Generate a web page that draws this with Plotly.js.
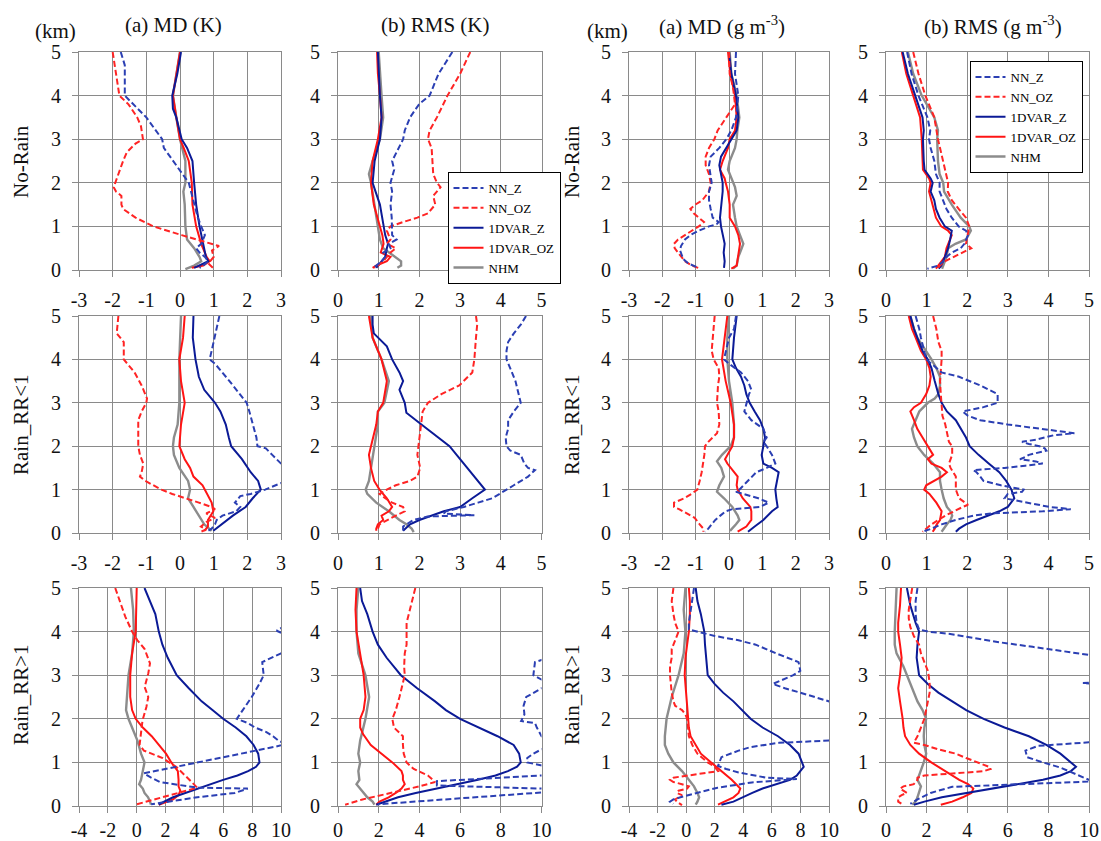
<!DOCTYPE html>
<html><head><meta charset="utf-8">
<script src="https://cdn.plot.ly/plotly-3.0.1.min.js"></script>
<style>html,body{margin:0;padding:0;background:#fff}#chart{width:1101px;height:841px}</style>
</head><body><div id="chart"></div>
<script>
// ---------- labels ----------
const SERIES_NAMES = ['NN_Z','NN_OZ','1DVAR_Z','1DVAR_OZ','NHM'];
const ROW_LABELS = ['No-Rain','Rain_RR&lt;1','Rain_RR&gt;1'];
const COL_TITLES = ['(a) MD (K)','(b) RMS (K)','(a) MD (g m<sup>-3</sup>)','(b) RMS (g m<sup>-3</sup>)'];
const Y_TICKS = [0,1,2,3,4,5];
const X_TICKS_MD = [-3,-2,-1,0,1,2,3];
const X_TICKS_RMS = [0,1,2,3,4,5];
const X_TICKS_MD_R2 = [-4,-2,0,2,4,6,8,10];
const X_TICKS_RMS_R2 = [0,2,4,6,8,10];

// ---------- data: [height km, value] ----------
// Row 1: No-Rain, temperature MD (K)
const tMD_nr_nnz = [[5,-1.76],[4.7,-1.64],[4,-1.64],[3.5,-1.0],[3,-0.53],[2.8,-0.48],[2,0.26],[1.5,0.42],[1.2,0.53],[1,0.63],[0.8,0.74],[0.6,0.63],[0.5,0.48],[0.4,0.58],[0.3,0.74],[0.2,0.84],[0.1,0.69],[0.05,0.58]];
const tMD_nr_nnoz = [[5,-2.0],[4.5,-1.9],[4,-1.8],[3.8,-1.53],[3.5,-1.27],[3.3,-1.16],[3,-1.1],[2.9,-1.32],[2.7,-1.58],[2.5,-1.69],[2.2,-1.83],[1.9,-1.97],[1.8,-1.9],[1.7,-1.74],[1.5,-1.74],[1.4,-1.69],[1.2,-1.32],[1,-0.79],[0.8,0.05],[0.6,0.9],[0.55,1.16],[0.45,0.95],[0.3,1.0],[0.15,0.84],[0.05,0.98]];
const tMD_nr_vz = [[5,0.03],[4.5,-0.08],[4,-0.23],[3.7,-0.21],[3.5,-0.11],[3,0.05],[2.8,0.21],[2.5,0.37],[2,0.42],[1.5,0.48],[1,0.58],[0.6,0.69],[0.3,0.77],[0.2,0.84],[0.1,0.58],[0.05,0.42]];
const tMD_nr_voz = [[5,0],[4.5,-0.11],[4,-0.21],[3.5,-0.11],[3,0],[2.8,0.11],[2.5,0.26],[2,0.35],[1.5,0.37],[1,0.48],[0.6,0.63],[0.3,0.79],[0.2,0.88],[0.1,0.69],[0.05,0.35]];
const tMD_nr_nhm = [[5,0],[4.5,-0.11],[4,-0.21],[3.5,-0.11],[3,0],[2.5,0.16],[2,0.16],[1.8,0.1],[1.5,0.14],[1,0.16],[0.7,0.21],[0.5,0.42],[0.3,0.58],[0.2,0.63],[0.1,0.42],[0.02,0.16]];
// Row 1: No-Rain, temperature RMS (K)
const tRMS_nr_nnz = [[5,2.81],[4.7,2.6],[4.5,2.47],[4,2.25],[3.8,1.99],[3.5,1.77],[3.2,1.64],[3,1.6],[2.5,1.33],[2.3,1.38],[2,1.29],[1.8,1.33],[1.5,1.29],[1.2,1.32],[1,1.33],[0.8,1.33],[0.7,1.44],[0.6,1.25],[0.5,1.29],[0.4,1.11],[0.3,1.16],[0.2,1.07],[0.1,0.94],[0.05,0.85]];
const tRMS_nr_nnoz = [[5,3.25],[4.5,3.0],[4,2.69],[3.5,2.43],[3.2,2.25],[3,2.21],[2.8,2.3],[2.5,2.32],[2.2,2.34],[2,2.43],[1.9,2.52],[1.7,2.34],[1.5,2.39],[1.3,2.21],[1.2,1.95],[1.1,1.6],[1,1.29],[0.9,1.2],[0.7,1.29],[0.6,1.2],[0.5,1.42],[0.4,1.29],[0.3,1.2],[0.2,1.11],[0.1,0.98],[0.05,0.89]];
const tRMS_nr_vz = [[5,0.98],[4.5,1.0],[4,1.03],[3.5,1.07],[3,1.03],[2.5,0.9],[2,0.85],[1.5,1.03],[1,1.11],[0.8,1.16],[0.6,1.23],[0.5,1.2],[0.3,1.16],[0.2,1.07],[0.1,0.98],[0.05,0.94]];
const tRMS_nr_voz = [[5,0.96],[4.5,0.98],[4,1.03],[3.5,1.07],[3,0.98],[2.5,0.85],[2,0.81],[1.5,0.88],[1,1.03],[0.8,1.09],[0.6,1.12],[0.4,1.05],[0.3,1.29],[0.2,1.2],[0.1,0.94],[0.05,0.85]];
const tRMS_nr_nhm = [[5,1.0],[4.5,1.03],[4,1.07],[3.5,1.11],[3,1.03],[2.5,0.85],[2.2,0.76],[2,0.81],[1.5,0.89],[1,0.98],[0.7,1.03],[0.5,1.11],[0.4,1.25],[0.3,1.42],[0.2,1.55],[0.1,1.55],[0.05,1.46]];
// Row 1: No-Rain, humidity MD (g m-3)
const qMD_nr_nnz = [[5,0.21],[4.5,0.18],[4,0.28],[3.5,0.21],[3.2,0.07],[3,-0.08],[2.8,-0.29],[2.6,-0.55],[2.4,-0.6],[2.2,-0.55],[2,-0.52],[1.8,-0.6],[1.6,-0.6],[1.4,-0.55],[1.2,-0.49],[1.1,-0.31],[1.05,-0.37],[1,-0.6],[0.9,-0.91],[0.8,-1.16],[0.7,-1.32],[0.55,-1.44],[0.45,-1.47],[0.35,-1.42],[0.25,-1.37],[0.15,-1.22],[0.05,-0.91]];
const qMD_nr_nnoz = [[5,0],[4.5,0.02],[4.2,0.12],[3.8,0.18],[3.5,-0.08],[3.2,-0.34],[3,-0.44],[2.8,-0.6],[2.6,-0.7],[2.4,-0.7],[2.2,-0.6],[2,-0.55],[1.8,-0.6],[1.6,-0.8],[1.5,-1.01],[1.4,-1.16],[1.3,-1.06],[1.2,-0.91],[1.1,-0.75],[1,-0.91],[0.9,-1.11],[0.8,-1.32],[0.7,-1.53],[0.6,-1.65],[0.5,-1.63],[0.4,-1.53],[0.3,-1.42],[0.2,-1.32],[0.1,-1.11],[0.03,-0.86]];
const qMD_nr_vz = [[5,0],[4.5,0.07],[4,0.21],[3.5,0.28],[3.2,0.23],[3,0.07],[2.8,-0.08],[2.6,-0.24],[2.4,-0.29],[2.2,-0.24],[2,-0.19],[1.8,-0.19],[1.6,-0.21],[1.4,-0.24],[1.2,-0.27],[1,-0.24],[0.8,-0.19],[0.6,-0.13],[0.4,-0.16],[0.2,-0.13],[0.05,-0.15]];
const qMD_nr_voz = [[5,-0.03],[4.5,0.04],[4,0.18],[3.5,0.23],[3.2,0.18],[3,0.02],[2.8,-0.03],[2.5,-0.19],[2.3,-0.27],[2.1,-0.13],[2,-0.1],[1.8,-0.03],[1.5,0.02],[1.2,0.02],[1,0.18],[0.8,0.28],[0.6,0.33],[0.5,0.31],[0.3,0.28],[0.1,0.23],[0.03,0.07]];
const qMD_nr_nhm = [[5,0.02],[4.5,0.07],[4,0.23],[3.5,0.31],[3.2,0.25],[3,0.23],[2.8,0.18],[2.5,0.02],[2.3,-0.03],[2.1,0.07],[1.9,0.18],[1.7,0.23],[1.5,0.12],[1.2,0.18],[1,0.23],[0.8,0.33],[0.6,0.43],[0.5,0.38],[0.3,0.28],[0.1,0.23],[0.03,0.12]];
// Row 1: No-Rain, humidity RMS (g m-3)
const qRMS_nr_nnz = [[5,0.52],[4.5,0.63],[4,0.8],[3.5,1.02],[3.2,1.09],[3,1.06],[2.8,1.1],[2.5,1.19],[2.2,1.23],[2,1.32],[1.8,1.32],[1.6,1.41],[1.4,1.49],[1.2,1.62],[1,1.79],[0.9,1.97],[0.8,2.02],[0.6,1.93],[0.5,1.84],[0.4,1.62],[0.3,1.49],[0.2,1.41],[0.1,1.28],[0.03,1.02]];
const qRMS_nr_nnoz = [[5,0.67],[4.5,0.8],[4,0.97],[3.7,1.1],[3.5,1.19],[3,1.28],[2.7,1.36],[2.5,1.41],[2.2,1.49],[2,1.53],[1.8,1.52],[1.6,1.62],[1.4,1.79],[1.2,1.97],[1,2.05],[0.8,2.01],[0.6,1.97],[0.5,2.1],[0.4,1.88],[0.3,1.66],[0.2,1.45],[0.1,1.32],[0.03,1.28]];
const qRMS_nr_vz = [[5,0.41],[4.5,0.54],[4,0.72],[3.5,0.9],[3.2,0.93],[3,0.91],[2.5,0.93],[2.3,0.95],[2.1,1.1],[2,1.15],[1.8,1.1],[1.6,1.19],[1.4,1.23],[1.2,1.32],[1,1.45],[0.9,1.62],[0.7,1.58],[0.5,1.53],[0.3,1.45],[0.2,1.41],[0.1,1.36],[0.03,1.3]];
const qRMS_nr_voz = [[5,0.39],[4.5,0.5],[4,0.67],[3.5,0.84],[3,0.88],[2.5,0.91],[2.3,0.91],[2.1,1.06],[2,1.1],[1.8,1.06],[1.5,1.15],[1.2,1.23],[1,1.36],[0.9,1.53],[0.8,1.62],[0.6,1.53],[0.5,1.49],[0.3,1.45],[0.2,1.36],[0.1,1.28],[0.03,1.23]];
const qRMS_nr_nhm = [[5,0.54],[4.5,0.67],[4,0.88],[3.5,1.19],[3.2,1.28],[3,1.26],[2.5,1.28],[2.2,1.32],[2,1.41],[1.8,1.43],[1.5,1.62],[1.2,1.84],[1,2.05],[0.9,2.09],[0.7,1.97],[0.6,1.71],[0.5,1.53],[0.3,1.49],[0.1,1.41],[0.03,1.38]];

// Row 2: Rain_RR<1, temperature MD (K)
const tMD_r1_nnz = [[5,1.17],[4.5,1.04],[4.2,0.94],[4,0.88],[3.9,1.04],[3.5,1.47],[3.2,1.77],[3,1.98],[2.8,2.06],[2.5,2.16],[2.2,2.27],[2,2.3],[1.95,2.55],[1.8,2.74],[1.6,3.0],[1.4,3.4],[1.2,3.3],[1.15,3.0],[1,2.53],[0.9,2.1],[0.85,1.79],[0.7,1.63],[0.6,1.79],[0.5,1.67],[0.4,1.26],[0.3,1.09],[0.2,1.04],[0.1,0.94],[0.05,0.83]];
const tMD_r1_nnoz = [[5,-1.83],[4.6,-1.88],[4.4,-1.67],[4.2,-1.67],[4,-1.67],[3.7,-1.35],[3.4,-1.14],[3.1,-0.98],[3,-1.0],[2.8,-1.14],[2.6,-1.24],[2.4,-1.24],[2,-1.24],[1.8,-1.19],[1.6,-1.09],[1.4,-1.14],[1.3,-1.19],[1.2,-1.03],[1,-0.55],[0.9,-0.23],[0.8,0.19],[0.7,0.56],[0.6,0.94],[0.55,1.04],[0.45,0.78],[0.35,1.04],[0.25,0.78],[0.15,0.62],[0.08,0.78],[0.03,0.62]];
const tMD_r1_vz = [[5,0.4],[4.5,0.38],[4,0.46],[3.6,0.56],[3.3,0.72],[3,1.04],[2.8,1.2],[2.5,1.36],[2.2,1.45],[2,1.52],[1.7,1.84],[1.4,2.1],[1.2,2.32],[1,2.4],[0.8,2.16],[0.6,1.95],[0.4,1.57],[0.2,1.25],[0.05,0.99]];
const tMD_r1_voz = [[5,0.14],[4.5,0.09],[4,-0.02],[3.5,0.03],[3,0.14],[2.5,0.03],[2,-0.02],[1.7,0.14],[1.5,0.3],[1.3,0.4],[1.1,0.67],[0.9,0.81],[0.7,0.94],[0.5,0.99],[0.3,0.83],[0.15,0.83],[0.05,0.72]];
const tMD_r1_nhm = [[5,0.03],[4.5,0],[4,-0.02],[3.5,-0.02],[3,-0.02],[2.5,-0.07],[2.2,-0.18],[2,-0.21],[1.8,-0.18],[1.5,-0.02],[1.2,0.24],[1,0.3],[0.8,0.24],[0.6,0.4],[0.4,0.56],[0.2,0.72],[0.05,0.94]];
// Row 2: Rain_RR<1, temperature RMS (K)
const tRMS_r1_nnz = [[5,4.62],[4.8,4.49],[4.6,4.32],[4.4,4.18],[4.2,4.14],[4,4.14],[3.8,4.23],[3.5,4.36],[3,4.49],[2.8,4.32],[2.6,4.18],[2.4,4.18],[2.2,4.12],[2,4.14],[1.9,4.23],[1.8,4.49],[1.6,4.58],[1.5,4.67],[1.45,4.84],[1.3,4.67],[1.1,4.32],[1,4.14],[0.8,3.79],[0.7,3.44],[0.6,3.09],[0.5,2.65],[0.45,2.6],[0.41,3.35],[0.38,2.2],[0.3,1.85],[0.15,1.6],[0.05,1.6]];
const tRMS_r1_nnoz = [[5,3.39],[4.8,3.42],[4.5,3.39],[4,3.35],[3.7,3.3],[3.4,2.98],[3.2,2.54],[3,2.21],[2.8,2.08],[2.5,2.04],[2,1.99],[1.8,1.95],[1.5,2.02],[1.3,1.95],[1.2,1.77],[1.1,1.42],[1,1.2],[0.9,1.02],[0.8,1.16],[0.7,1.33],[0.6,1.6],[0.5,1.64],[0.4,1.42],[0.3,1.2],[0.2,1.02],[0.1,0.98],[0.05,1.0]];
const tRMS_r1_vz = [[5,0.85],[4.8,0.85],[4.6,0.88],[4.5,0.98],[4.3,1.2],[4,1.33],[3.7,1.51],[3.5,1.6],[3.3,1.51],[3,1.64],[2.77,1.68],[2.5,2.05],[2.2,2.46],[2,2.74],[1.7,3.0],[1.5,3.18],[1.2,3.44],[1,3.61],[0.8,3.3],[0.6,3.0],[0.5,2.6],[0.4,2.3],[0.3,2.0],[0.2,1.77],[0.1,1.65],[0.05,1.6]];
const tRMS_r1_voz = [[5,0.76],[4.5,0.85],[4,1.07],[3.5,1.2],[3,1.11],[2.8,0.98],[2.5,0.94],[2,0.81],[1.8,0.76],[1.5,0.81],[1.2,0.89],[1,1.02],[0.8,1.2],[0.6,1.33],[0.5,1.25],[0.4,1.07],[0.3,1.11],[0.2,0.98],[0.1,0.94],[0.05,0.94]];
const tRMS_r1_nhm = [[5,0.81],[4.5,0.85],[4,1.07],[3.5,1.25],[3,1.14],[2.8,0.98],[2.5,0.98],[2,0.89],[1.5,0.81],[1.2,0.76],[1,0.68],[0.9,0.72],[0.7,0.94],[0.5,1.25],[0.3,1.51],[0.2,1.68],[0.1,1.81],[0.02,1.86]];
// Row 2: Rain_RR<1, humidity MD (g m-3)
const qMD_r1_nnz = [[5,0.21],[4.7,0.15],[4.5,0],[4.2,-0.1],[4,-0.15],[3.9,0],[3.7,0.36],[3.5,0.57],[3.3,0.67],[3.2,0.6],[3,0.52],[2.8,0.46],[2.6,0.67],[2.5,0.87],[2.4,1.03],[2.2,1.13],[2.1,1.03],[2,1.13],[1.8,1.29],[1.6,1.39],[1.5,1.13],[1.4,0.82],[1.2,0.57],[1,0.31],[0.95,0.21],[0.9,0.41],[0.8,0.88],[0.7,1.19],[0.6,0.93],[0.55,0.1],[0.5,-0.1],[0.4,-0.26],[0.3,-0.41],[0.2,-0.52],[0.1,-0.62],[0.03,-0.72]];
const qMD_r1_nnoz = [[5,-0.43],[4.5,-0.48],[4.2,-0.52],[4,-0.46],[3.8,-0.31],[3.6,-0.29],[3.4,-0.33],[3,-0.36],[2.8,-0.31],[2.5,-0.29],[2.3,-0.36],[2.1,-0.62],[2,-0.72],[1.8,-0.74],[1.6,-0.77],[1.4,-0.82],[1.2,-0.88],[1,-0.95],[0.9,-1.13],[0.8,-1.34],[0.7,-1.65],[0.6,-1.65],[0.55,-1.5],[0.45,-1.24],[0.35,-1.03],[0.2,-0.88],[0.1,-0.77],[0.03,-0.77]];
const qMD_r1_vz = [[5,0.23],[4.5,0.15],[4,0.1],[3.8,0.21],[3.6,0.36],[3.4,0.46],[3.2,0.52],[3,0.62],[2.8,0.77],[2.6,0.93],[2.4,1.03],[2.2,1.08],[2,1.03],[1.8,0.98],[1.6,1.03],[1.5,1.29],[1.4,1.49],[1.2,1.44],[1,1.39],[0.8,1.42],[0.6,1.46],[0.5,1.29],[0.3,1.03],[0.15,0.77],[0.03,0.57]];
const qMD_r1_voz = [[5,-0.05],[4.5,-0.12],[4,-0.21],[3.5,-0.1],[3,0.05],[2.5,0.15],[2.2,0.15],[2,0.1],[1.8,-0.05],[1.7,-0.12],[1.6,-0.05],[1.4,0.15],[1.3,0.26],[1.1,0.23],[1,0.26],[0.8,0.41],[0.6,0.64],[0.5,0.67],[0.3,0.67],[0.15,0.52],[0.03,0.26]];
const qMD_r1_nhm = [[5,0],[4.5,-0.05],[4,-0.05],[3.5,0],[3,0.1],[2.5,0.15],[2.2,0.15],[2,0.05],[1.8,-0.21],[1.65,-0.36],[1.5,-0.23],[1.3,-0.15],[1.1,-0.29],[0.95,-0.36],[0.8,-0.15],[0.6,0.1],[0.4,0.26],[0.3,0.31],[0.2,0.21],[0.05,0.03]];
// Row 2: Rain_RR<1, humidity RMS (g m-3)
const qRMS_r1_nnz = [[5,0.73],[4.7,0.82],[4.5,0.86],[4.2,0.94],[4,0.99],[3.9,1.12],[3.7,1.37],[3.6,1.8],[3.4,2.32],[3.2,2.75],[3,2.75],[2.9,2.4],[2.8,1.89],[2.7,2.02],[2.6,2.32],[2.5,3.0],[2.4,3.86],[2.3,4.64],[2.25,4.12],[2.15,3.69],[2.1,3.35],[2.05,3.52],[2,3.78],[1.95,3.91],[1.9,3.95],[1.85,3.69],[1.8,3.52],[1.75,3.43],[1.7,3.3],[1.65,3.69],[1.6,3.86],[1.55,3.43],[1.5,2.92],[1.45,2.15],[1.4,2.23],[1.3,2.32],[1.2,2.4],[1.1,2.83],[1,3.39],[0.95,3.35],[0.9,3.0],[0.8,2.92],[0.7,3.52],[0.6,4.03],[0.55,4.55],[0.5,3.86],[0.45,2.58],[0.4,2.15],[0.3,1.72],[0.2,1.37],[0.1,1.12],[0.03,0.9]];
const qRMS_r1_nnoz = [[5,1.16],[4.7,1.24],[4.4,1.29],[4.2,1.37],[4,1.37],[3.8,1.35],[3.5,1.33],[3.2,1.35],[3,1.37],[2.7,1.39],[2.5,1.46],[2.3,1.5],[2.1,1.55],[2,1.63],[1.8,1.63],[1.6,1.55],[1.5,1.59],[1.3,1.72],[1.1,1.72],[1,1.72],[0.8,1.8],[0.7,1.93],[0.65,2.02],[0.6,1.89],[0.5,1.67],[0.4,1.46],[0.3,1.29],[0.2,1.12],[0.1,0.99],[0.03,0.9]];
const qRMS_r1_vz = [[5,0.6],[4.7,0.69],[4.5,0.77],[4.2,0.9],[4,1.03],[3.8,1.12],[3.5,1.2],[3.2,1.29],[3,1.37],[2.8,1.5],[2.6,1.72],[2.4,1.85],[2.2,1.97],[2,2.06],[1.8,2.28],[1.6,2.53],[1.4,2.79],[1.2,2.96],[1,3.09],[0.8,3.16],[0.6,3.0],[0.5,2.79],[0.4,2.49],[0.3,2.23],[0.2,1.97],[0.1,1.8],[0.03,1.72]];
const qRMS_r1_voz = [[5,0.56],[4.7,0.64],[4.5,0.73],[4.2,0.86],[4,0.99],[3.8,1.07],[3.6,1.1],[3.4,1.07],[3.2,0.99],[3,0.86],[2.9,0.69],[2.8,0.6],[2.6,0.69],[2.4,0.77],[2.2,0.9],[2,1.03],[1.8,1.16],[1.7,1.03],[1.6,1.12],[1.5,1.37],[1.4,1.5],[1.3,1.37],[1.2,1.16],[1.1,0.99],[1,0.94],[0.9,1.07],[0.7,1.24],[0.5,1.37],[0.3,1.33],[0.2,1.25],[0.1,1.2],[0.03,1.15]];
const qRMS_r1_nhm = [[5,0.6],[4.7,0.69],[4.5,0.77],[4.2,0.99],[4,1.12],[3.8,1.24],[3.6,1.33],[3.4,1.33],[3.2,1.29],[3.1,1.2],[3,1.03],[2.8,0.82],[2.6,0.73],[2.4,0.64],[2.2,0.69],[2,0.77],[1.8,0.94],[1.6,1.16],[1.4,1.33],[1.2,1.33],[1,1.37],[0.8,1.42],[0.6,1.5],[0.5,1.59],[0.4,1.63],[0.3,1.59],[0.2,1.5],[0.1,1.42],[0.03,1.37]];

// Row 3: Rain_RR>1, temperature MD (K)
const tMD_r2_nnz = [[5,13],[4.12,10.2],[4.02,9.7],[3.9,10.5],[3.55,10.5],[3.5,10.0],[3.3,8.7],[3,8.8],[2.8,8.5],[2.5,7.97],[2.2,7.35],[2,6.94],[1.9,7.72],[1.8,8.2],[1.7,8.96],[1.6,9.45],[1.5,9.83],[1.42,10.3],[1.36,9.6],[1,4.3],[0.9,2.8],[0.75,0.5],[0.65,1.0],[0.55,1.6],[0.45,3.6],[0.42,4.3],[0.4,7.7],[0.3,6.8],[0.2,4.2],[0.1,2.2],[0.04,1.0]];
const tMD_r2_nnoz = [[5,-1.49],[4.73,-1.2],[4.35,-0.8],[4,-0.32],[3.8,0.05],[3.6,0.55],[3.27,0.92],[3.04,0.8],[2.73,0.55],[2.5,0.8],[2.27,0.67],[1.96,0.4],[1.7,0.3],[1.4,0.2],[1.27,0.5],[1.1,1.8],[0.88,2.8],[0.65,3.5],[0.42,4.2],[0.23,2.1],[0.04,0.0]];
const tMD_r2_vz = [[5,0.54],[4.7,0.92],[4.4,1.29],[4,1.53],[3.7,1.78],[3.4,2.15],[3,2.77],[2.7,3.61],[2.4,4.5],[2.2,5.25],[2,5.99],[1.8,6.86],[1.6,7.6],[1.4,8.1],[1.2,8.42],[1,8.51],[0.9,8.27],[0.8,7.72],[0.7,6.98],[0.6,5.99],[0.5,5.12],[0.4,4.13],[0.3,3.27],[0.2,2.52],[0.1,1.9],[0.03,1.53]];
const tMD_r2_voz = [[5,0],[4.5,-0.05],[4,-0.07],[3.5,-0.32],[3,-0.45],[2.5,-0.45],[2.2,-0.32],[2,-0.07],[1.8,0.42],[1.6,1.04],[1.4,1.53],[1.2,2.03],[1,2.4],[0.8,2.85],[0.6,2.9],[0.45,2.9],[0.35,3.02],[0.25,2.9],[0.15,2.52],[0.08,1.9],[0.03,1.53]];
const tMD_r2_nhm = [[5,-0.4],[4.5,-0.25],[4,-0.2],[3.5,-0.32],[3,-0.57],[2.5,-0.69],[2.2,-0.74],[2,-0.57],[1.8,-0.32],[1.5,0.05],[1.2,0.3],[1,0.54],[0.8,0.42],[0.6,0.3],[0.5,0.17],[0.4,0.42],[0.3,0.54],[0.2,0.79],[0.1,0.92],[0.03,0.99]];
// Row 3: Rain_RR>1, temperature RMS (K)
const tRMS_r2_nnz = [[3.45,11],[3.35,10],[3.3,9.68],[3,9.6],[2.9,10],[2.85,11],[2.75,11],[2.7,10],[2.5,9.25],[2.3,9.12],[2.1,9.16],[1.95,9.0],[1.9,9.68],[1.8,9.77],[1.6,10],[1.45,11],[1.35,11],[1.3,10],[1.2,9.6],[1.1,9.3],[1,9.3],[0.95,9.86],[0.85,10.8],[0.73,11],[0.7,10],[0.57,4.86],[0.47,4.86],[0.4,10],[0.36,11],[0.32,11],[0.31,10],[0.04,1.96]];
const tRMS_r2_nnoz = [[5,3.8],[4.7,3.63],[4.4,3.46],[4.2,3.37],[4,3.37],[3.7,3.37],[3.5,3.28],[3.2,3.25],[3,3.28],[2.8,3.19],[2.5,3.02],[2.2,2.84],[2,2.67],[1.8,2.75],[1.6,3.19],[1.4,3.19],[1.2,3.23],[1,3.37],[0.85,3.72],[0.7,4.42],[0.6,4.68],[0.55,4.77],[0.45,4.0],[0.3,2.6],[0.15,1.2],[0.03,0.35]];
const tRMS_r2_vz = [[5,1.09],[4.7,1.18],[4.4,1.44],[4,1.7],[3.7,1.96],[3.4,2.39],[3,3.09],[2.7,3.89],[2.4,4.77],[2.2,5.3],[2,6.0],[1.8,6.88],[1.6,7.84],[1.4,8.63],[1.2,8.9],[1,8.98],[0.9,8.8],[0.8,8.35],[0.7,7.74],[0.6,6.88],[0.5,5.82],[0.4,4.77],[0.3,3.82],[0.2,2.95],[0.1,2.25],[0.03,1.88]];
const tRMS_r2_voz = [[5,0.91],[4.5,0.86],[4,0.91],[3.5,1.09],[3,1.26],[2.5,1.35],[2.2,1.26],[2,1.09],[1.8,1.09],[1.65,1.23],[1.4,1.61],[1.2,2.14],[1,2.67],[0.8,3.12],[0.7,3.19],[0.6,3.19],[0.5,3.28],[0.4,3.12],[0.3,2.84],[0.2,2.49],[0.1,2.04],[0.03,1.88]];
const tRMS_r2_nhm = [[5,1.0],[4.5,0.91],[4,0.91],[3.5,1.0],[3,1.35],[2.5,1.53],[2,1.35],[1.5,1.09],[1.2,1.0],[1,1.09],[0.8,1.0],[0.6,1.05],[0.5,0.91],[0.3,1.26],[0.2,1.44],[0.1,1.7],[0.03,1.79]];
// Row 3: Rain_RR>1, humidity MD (g m-3)
const qMD_r2_nnz = [[5,0.55],[4.7,0.43],[4.4,0.31],[4.2,0.19],[4.05,0.19],[4,0.79],[3.9,2.0],[3.8,3.67],[3.7,4.87],[3.5,6.31],[3.3,7.87],[3.1,7.99],[3,7.5],[2.8,6.07],[2.7,6.91],[2.6,7.99],[2.5,8.95],[2.4,9.9],[2.3,11],[1.6,11],[1.5,10],[1.45,6.5],[1.35,4.5],[1.27,3.67],[1.12,2.47],[0.92,2.23],[0.85,2.8],[0.77,3.67],[0.65,5.6],[0.62,7.75],[0.54,4.6],[0.42,2.2],[0.31,0.8],[0.2,-0.4],[0.15,-0.9],[0.1,-1.13],[0.05,-0.9]];
const qMD_r2_nnoz = [[5,-0.89],[4.7,-1.01],[4.4,-0.89],[4.2,-0.77],[4,-0.53],[3.8,-0.77],[3.6,-1.01],[3.4,-1.01],[3.2,-1.13],[3,-1.13],[2.8,-1.08],[2.6,-1.01],[2.4,-0.89],[2.3,-0.77],[2.2,-0.29],[2.1,-0.05],[2,0.07],[1.8,0.12],[1.6,0.19],[1.4,0.43],[1.2,0.79],[1,1.51],[0.9,1.99],[0.8,2.23],[0.75,1.27],[0.7,0.07],[0.65,-0.89],[0.6,-1.13],[0.55,-0.89],[0.5,-0.29],[0.45,0.19],[0.4,0.07],[0.35,-0.53],[0.3,-0.65],[0.25,-0.29],[0.2,-0.53],[0.15,-0.77],[0.1,-0.65],[0.05,-0.41],[0.02,-0.29]];
const qMD_r2_vz = [[5,0.67],[4.7,0.79],[4.4,1.03],[4,1.27],[3.7,1.32],[3.4,1.39],[3,1.51],[2.8,1.99],[2.6,2.59],[2.4,3.31],[2.2,3.91],[2,4.51],[1.8,5.35],[1.6,6.43],[1.4,7.27],[1.2,7.87],[1,8.11],[0.9,8.23],[0.8,7.99],[0.7,7.75],[0.6,7.27],[0.5,6.31],[0.4,5.35],[0.3,4.63],[0.2,3.91],[0.1,3.31],[0.03,2.47]];
const qMD_r2_voz = [[5,0.19],[4.7,0.26],[4.4,0.26],[4,0.19],[3.7,0.07],[3.4,-0.05],[3,-0.1],[2.8,-0.05],[2.5,0.02],[2.2,0.07],[2,0.12],[1.8,0.19],[1.6,0.31],[1.4,0.67],[1.2,1.03],[1,1.75],[0.8,2.47],[0.6,3.19],[0.4,3.79],[0.3,3.67],[0.2,3.31],[0.1,2.71],[0.03,2.23]];
const qMD_r2_nhm = [[5,-0.05],[4.5,-0.17],[4,-0.05],[3.5,-0.17],[3,-0.53],[2.5,-1.01],[2,-1.37],[1.6,-1.49],[1.4,-1.49],[1.2,-1.25],[1,-0.89],[0.8,-0.29],[0.6,0.19],[0.45,0.55],[0.3,0.79],[0.2,0.91],[0.1,0.79],[0.03,0.67]];
// Row 3: Rain_RR>1, humidity RMS (g m-3)
const qRMS_r2_nnz = [[5,1.55],[4.7,1.46],[4.4,1.46],[4.2,1.51],[4.05,1.63],[4,2.06],[3.95,3.09],[3.85,4.3],[3.75,5.67],[3.65,7.22],[3.55,8.59],[3.45,10],[3.4,11],[2.85,11],[2.82,9.7],[2.78,11],[1.5,11],[1.46,10],[1.38,7.5],[1.27,6.87],[1.12,6.95],[1,7.73],[0.88,8.6],[0.7,9.5],[0.6,10],[0.58,10.8],[0.56,10],[0.44,3.26],[0.3,2.2],[0.15,1.55],[0.05,1.2]];
const qRMS_r2_nnoz = [[5,1.29],[4.7,1.2],[4.5,1.12],[4.3,1.12],[4.1,1.2],[3.9,1.37],[3.7,1.63],[3.5,1.72],[3.3,1.89],[3.1,2.06],[3,2.1],[2.8,2.15],[2.6,2.15],[2.4,2.06],[2.2,1.98],[2,1.89],[1.8,1.72],[1.6,1.55],[1.45,1.37],[1.4,1.89],[1.3,2.58],[1.2,3.44],[1.1,3.95],[1,4.55],[0.9,5.07],[0.85,5.15],[0.8,4.81],[0.75,3.44],[0.7,1.89],[0.65,1.55],[0.6,1.55],[0.5,1.37],[0.45,0.86],[0.4,0.69],[0.3,1.03],[0.25,0.77],[0.2,0.6],[0.1,0.6],[0.05,0.77]];
const qRMS_r2_vz = [[5,1.03],[4.6,1.2],[4.2,1.46],[4,1.63],[3.7,1.55],[3.4,1.51],[3,1.63],[2.8,2.06],[2.6,2.58],[2.4,3.26],[2.2,3.95],[2,4.81],[1.8,5.84],[1.6,7.04],[1.4,7.9],[1.2,8.59],[1,9.11],[0.9,9.36],[0.8,9.11],[0.7,8.59],[0.6,7.73],[0.5,6.53],[0.4,5.15],[0.3,3.95],[0.2,2.75],[0.1,1.89],[0.03,1.37]];
const qRMS_r2_voz = [[5,0.74],[4.6,0.69],[4.2,0.6],[4,0.6],[3.7,0.69],[3.4,0.77],[3,0.69],[2.7,0.6],[2.4,0.69],[2.2,0.77],[2,0.82],[1.8,0.86],[1.6,0.94],[1.4,1.2],[1.2,1.63],[1,2.23],[0.8,2.92],[0.6,3.61],[0.5,4.04],[0.4,4.3],[0.3,4.21],[0.2,3.78],[0.1,3.26],[0.03,2.7]];
const qRMS_r2_nhm = [[5,0.52],[4.6,0.48],[4.2,0.43],[4,0.43],[3.7,0.43],[3.5,0.52],[3.2,0.86],[3,1.03],[2.7,1.29],[2.4,1.55],[2.2,1.8],[2,1.98],[1.8,1.89],[1.6,1.86],[1.4,1.89],[1.2,1.98],[1,1.86],[0.8,1.72],[0.6,1.55],[0.45,1.72],[0.3,1.63],[0.2,1.55],[0.1,1.46],[0.03,1.29]];

// ---------- panels ----------
const PANELS = [
  {r:0,c:0,lines:[tMD_nr_nnz,tMD_nr_nnoz,tMD_nr_vz,tMD_nr_voz,tMD_nr_nhm],ticks:X_TICKS_MD},
  {r:0,c:1,lines:[tRMS_nr_nnz,tRMS_nr_nnoz,tRMS_nr_vz,tRMS_nr_voz,tRMS_nr_nhm],ticks:X_TICKS_RMS,legend:'legend'},
  {r:0,c:2,lines:[qMD_nr_nnz,qMD_nr_nnoz,qMD_nr_vz,qMD_nr_voz,qMD_nr_nhm],ticks:X_TICKS_MD},
  {r:0,c:3,lines:[qRMS_nr_nnz,qRMS_nr_nnoz,qRMS_nr_vz,qRMS_nr_voz,qRMS_nr_nhm],ticks:X_TICKS_RMS,legend:'legend2'},
  {r:1,c:0,lines:[tMD_r1_nnz,tMD_r1_nnoz,tMD_r1_vz,tMD_r1_voz,tMD_r1_nhm],ticks:X_TICKS_MD},
  {r:1,c:1,lines:[tRMS_r1_nnz,tRMS_r1_nnoz,tRMS_r1_vz,tRMS_r1_voz,tRMS_r1_nhm],ticks:X_TICKS_RMS},
  {r:1,c:2,lines:[qMD_r1_nnz,qMD_r1_nnoz,qMD_r1_vz,qMD_r1_voz,qMD_r1_nhm],ticks:X_TICKS_MD},
  {r:1,c:3,lines:[qRMS_r1_nnz,qRMS_r1_nnoz,qRMS_r1_vz,qRMS_r1_voz,qRMS_r1_nhm],ticks:X_TICKS_RMS},
  {r:2,c:0,lines:[tMD_r2_nnz,tMD_r2_nnoz,tMD_r2_vz,tMD_r2_voz,tMD_r2_nhm],ticks:X_TICKS_MD_R2},
  {r:2,c:1,lines:[tRMS_r2_nnz,tRMS_r2_nnoz,tRMS_r2_vz,tRMS_r2_voz,tRMS_r2_nhm],ticks:X_TICKS_RMS_R2},
  {r:2,c:2,lines:[qMD_r2_nnz,qMD_r2_nnoz,qMD_r2_vz,qMD_r2_voz,qMD_r2_nhm],ticks:X_TICKS_MD_R2},
  {r:2,c:3,lines:[qRMS_r2_nnz,qRMS_r2_nnoz,qRMS_r2_vz,qRMS_r2_voz,qRMS_r2_nhm],ticks:X_TICKS_RMS_R2}
];

// ---------- styling ----------
const W = 1101, H = 841;
const COL_PX = [[79,281],[338,541.5],[629,829],[886,1089]];
const ROW_PX = [[52,270],[316,533],[588,806]];
const XLABEL_STANDOFF = [6, 6, 0];
const STYLES = [
  {color:'#2b3fb3', dash:'6px,3px', width:2},
  {color:'#ff2424', dash:'6px,3px', width:2},
  {color:'#0b1a96', dash:'solid', width:2},
  {color:'#ff1414', dash:'solid', width:2},
  {color:'#8c8c8c', dash:'solid', width:2.4}
];
const DRAW_ORDER = [4,3,2,1,0];
const SERIF = '"Liberation Serif", "Times New Roman", Times, "DejaVu Serif", serif';
const GRID = '#8a8a8a';

const traces = [];
const legendBase = {xanchor:'center', yanchor:'top', bgcolor:'#fff', bordercolor:'#000', borderwidth:1,
  font:{family:SERIF,size:13,color:'#000'}, itemwidth:30, tracegroupgap:0};
const layout = {
  width: W, height: H,
  margin: {l:0,r:0,t:0,b:0},
  paper_bgcolor: '#fff', plot_bgcolor: '#fff',
  showlegend: true,
  hovermode: false,
  font: {family: SERIF, size: 20, color: '#111'},
  annotations: [],
  legend: Object.assign({x:504/W, y:1-172/H}, legendBase),
  legend2: Object.assign({x:1026/W, y:1-61/H}, legendBase)
};

PANELS.forEach((p, i) => {
  const n = i + 1;
  const xa = 'xaxis' + (n === 1 ? '' : n), ya = 'yaxis' + (n === 1 ? '' : n);
  const xr = 'x' + (n === 1 ? '' : n), yr = 'y' + (n === 1 ? '' : n);
  const cx = COL_PX[p.c], ry = ROW_PX[p.r];
  const common = {showgrid:true, gridcolor:GRID, gridwidth:1, showline:true, linecolor:GRID, linewidth:1,
                  mirror:true, ticks:'outside', ticklen:6, tickcolor:GRID, zeroline:false, fixedrange:true,
                  tickfont:{family:SERIF,size:20,color:'#111'}};
  layout[xa] = Object.assign({}, common, {
    domain:[cx[0]/W, cx[1]/W], anchor: yr,
    range:[p.ticks[0], p.ticks[p.ticks.length-1]],
    tickmode:'array', tickvals:p.ticks, ticktext:p.ticks.map(v => String(v)), ticklabelstandoff: XLABEL_STANDOFF[p.r]
  });
  layout[ya] = Object.assign({}, common, {
    domain:[1-ry[1]/H, 1-ry[0]/H], anchor: xr, range:[0,5],
    tickmode:'array', tickvals:Y_TICKS, ticktext:Y_TICKS.map(v => String(v)), ticklabelstandoff: 7
  });
  DRAW_ORDER.forEach(k => {
    const d = p.lines[k];
    traces.push({
      type:'scatter', mode:'lines', name: SERIES_NAMES[k],
      x: d.map(q => q[1]), y: d.map(q => q[0]),
      xaxis: xr, yaxis: yr,
      line: {color:STYLES[k].color, dash:STYLES[k].dash, width:STYLES[k].width},
      showlegend: !!p.legend, legend: p.legend || 'legend', legendrank: k + 1,
      hoverinfo:'skip'
    });
  });
});

// column titles
const TITLE_X = [173, 435, 722, 993];
COL_TITLES.forEach((t, c) => {
  layout.annotations.push({text:t, x:TITLE_X[c]/W, y:1-25/H, xref:'paper', yref:'paper', showarrow:false,
    xanchor:'center', yanchor:'middle', font:{family:SERIF,size:21,color:'#111'}});
});
[[55,31],[607,31]].forEach(pt => {
  layout.annotations.push({text:'(km)', x:pt[0]/W, y:1-pt[1]/H, xref:'paper', yref:'paper', showarrow:false,
    xanchor:'center', yanchor:'middle', font:{family:SERIF,size:21,color:'#111'}});
});
// row labels
const ROW_LABEL_Y = [162, 425, 695];
ROW_LABELS.forEach((t, r) => {
  [21, 572].forEach(xp => {
    layout.annotations.push({text:t, x:xp/W, y:1-ROW_LABEL_Y[r]/H, xref:'paper', yref:'paper',
      showarrow:false, textangle:-90, xanchor:'center', yanchor:'middle', font:{family:SERIF,size:21,color:'#111'}});
  });
});

Plotly.newPlot('chart', traces, layout, {staticPlot:true, displayModeBar:false});
</script>
</body></html>
